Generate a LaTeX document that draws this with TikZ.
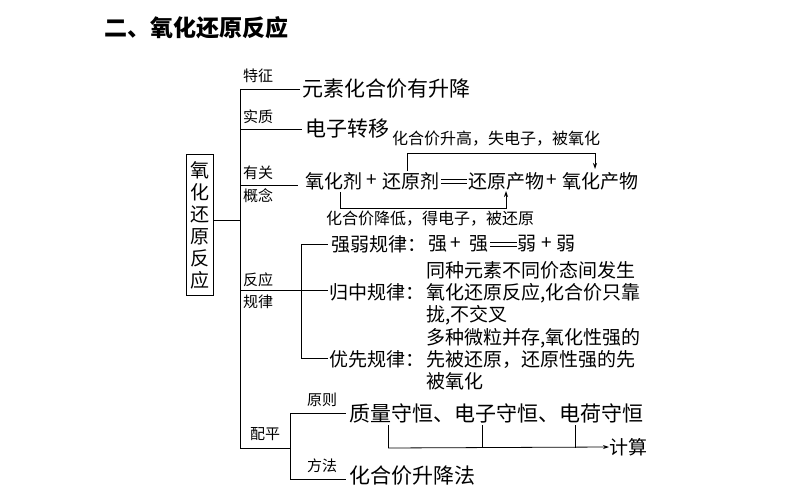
\documentclass[tikz,border=0pt]{standalone}
\usepackage{fontspec}
\setmainfont{Noto Sans CJK SC}
\usetikzlibrary{arrows.meta}
\begin{document}
\begin{tikzpicture}[x=1pt,y=-1pt,
  ln/.style={line width=0.8pt},
  lab/.style={font=\fontsize{15}{16}\selectfont,inner sep=0pt},
  txt/.style={font=\fontsize{19}{20}\selectfont,inner sep=0pt,anchor=west},
  big/.style={font=\fontsize{21}{22}\selectfont,inner sep=0pt,anchor=west},
  ml/.style={font=\fontsize{19}{22}\selectfont,inner sep=0pt,anchor=west,align=left},
  arr/.style={ln,-{Stealth[length=6pt,width=4pt]}}]
\useasboundingbox (0,0) rectangle (801,500);
\node[font=\fontsize{23}{24}\selectfont\bfseries,anchor=west,inner sep=0pt] (title) at (104,28) {二、氧化还原反应};
\node[draw,ln,minimum width=27pt,minimum height=141pt,inner sep=0pt,align=center,font=\fontsize{19}{22}\selectfont] (root) at (200,225) {氧\\化\\还\\原\\反\\应};
\coordinate (m) at (240,220);
\draw[ln] (root.east|-m) -- (m);
\draw[ln] (240,89) -- (240,448);
% branches
\draw[ln] (240,89) -- (300,89);
\node[lab] (l1) at (258,76) {特征};
\node[big] (t1) at (302,89) {元素化合价有升降};
\draw[ln] (240,129) -- (302,129);
\node[lab] (l2) at (258,117) {实质};
\node[big] (t2) at (305,129) {电子转移};
\draw[ln] (240,185) -- (298,185);
\node[lab] (l3a) at (258,173) {有关};
\node[lab] (l3b) at (258,196) {概念};
\node[txt] (ox) at (305,181) {氧化剂};
\node[txt] (p1) at (366,181) {+};
\node[txt] (rd) at (382,181) {还原剂};
\draw[ln] (441,179.5) -- (467,179.5) (441,183) -- (467,183);
\node[txt] (rdp) at (468,181) {还原产物};
\node[txt] (p2) at (546,181) {+};
\node[txt] (oxp) at (562,181) {氧化产物};
\draw[arr] (407,171) -- (407,153) -- (595,153) -- (595,169);
\node[font=\fontsize{16}{17}\selectfont,inner sep=0pt] (up) at (496,139) {化合价升高，失电子，被氧化};
\draw[arr] (340,192) -- (340,208) -- (506,208) -- (506,191);
\node[font=\fontsize{16}{17}\selectfont,inner sep=0pt] (dn) at (430,219) {化合价降低，得电子，被还原};
% reaction laws
\draw[ln] (240,290) -- (328,290);
\node[lab] (l4a) at (258,280) {反应};
\node[lab] (l4b) at (258,302) {规律};
\draw[ln] (301,244) -- (301,358);
\draw[ln] (301,244) -- (328,244) (301,358) -- (328,358);
\node[txt] (r1) at (331,244) {强弱规律：};
\node[txt] (s1) at (428,244) {强};
\node[txt] (s2) at (450,244) {+};
\node[txt] (s3) at (469,244) {强};
\draw[ln] (490,242.5) -- (517,242.5) (490,246) -- (517,246);
\node[txt] (s4) at (517,244) {弱};
\node[txt] (s5) at (541,244) {+};
\node[txt] (s6) at (556,244) {弱};
\node[txt] (r2) at (329,292) {归中规律：};
\node[ml] (r2t) at (426,293) {同种元素不同价态间发生\\氧化还原反应,化合价只靠\\拢,不交叉};
\node[txt] (r3) at (329,359) {优先规律：};
\node[ml] (r3t) at (426,359) {多种微粒并存,氧化性强的\\先被还原，还原性强的先\\被氧化};
% balancing
\draw[ln] (240,448) -- (290,448);
\node[lab] (l5) at (265,434) {配平};
\draw[ln] (290,413) -- (290,479);
\draw[ln] (290,413) -- (346,413) (290,479) -- (346,479);
\node[lab] (l6) at (322,400) {原则};
\node[lab] (l7) at (322,466) {方法};
\node[big] (t6) at (349,413) {质量守恒、电子守恒、电荷守恒};
\node[big] (t7) at (349,476) {化合价升降法};
\node[txt] (calc) at (609,447) {计算};
\draw[ln] (388,425) -- (388,448) (482,425) -- (482,448) (575,425) -- (575,448);
\draw[arr] (388,448) -- (calc.west);
\end{tikzpicture}
\end{document}
